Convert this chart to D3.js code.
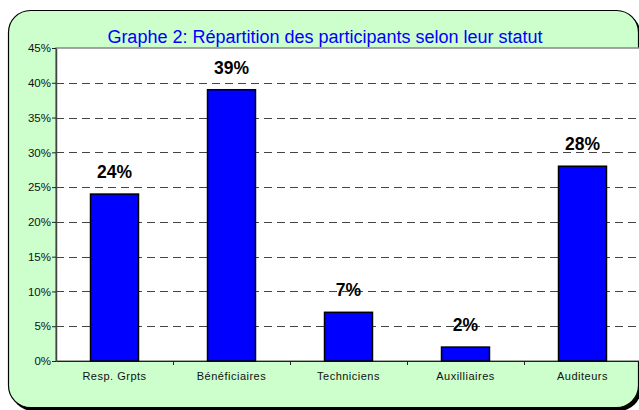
<!DOCTYPE html>
<html>
<head>
<meta charset="utf-8">
<script src="https://cdn.jsdelivr.net/npm/d3@7"></script>
<style>
  body { margin: 0; background: #fff; }
  svg { display: block; font-family: "Liberation Sans", Arial, sans-serif; }
</style>
</head>
<body>
<div id="chart"></div>
<script>
var categories = ['Resp. Grpts', 'Bénéficiaires', 'Techniciens', 'Auxilliaires', 'Auditeurs'];
var values = [0.24, 0.39, 0.07, 0.02, 0.28];
var yTicks = [0, 0.05, 0.10, 0.15, 0.20, 0.25, 0.30, 0.35, 0.40, 0.45];
var title = 'Graphe 2: Répartition des participants selon leur statut';

var width = 639, height = 410;
var margin = {top: 48, right: -2, bottom: 49, left: 56};

var svg = d3.select('#chart').append('svg')
  .attr('width', width)
  .attr('height', height);

// outer frame, with a small dark shadow
svg.append('rect')
  .attr('x', 11).attr('y', 13)
  .attr('width', 630).attr('height', 398)
  .attr('rx', 22).attr('ry', 22)
  .style('fill', '#000');
svg.append('rect')
  .attr('x', 8.5).attr('y', 10.5)
  .attr('width', 630).attr('height', 397)
  .attr('rx', 22).attr('ry', 22)
  .style('fill', '#ccffcc')
  .style('stroke', '#000')
  .style('stroke-width', 1.2);

var x = d3.scaleBand()
  .domain(categories)
  .range([margin.left, width - margin.right])
  .paddingInner(0.59).paddingOuter(0.295);

var xTicks = d3.scaleBand()
  .domain(categories)
  .range([margin.left, width - margin.right]);

var y = d3.scaleLinear()
  .domain([0, 0.45])
  .range([height - margin.bottom, margin.top]);

// plot area
svg.append('rect')
  .attr('x', margin.left).attr('y', margin.top)
  .attr('width', width - margin.left + 5)
  .attr('height', y(0) - margin.top)
  .style('fill', '#fff')
  .style('stroke', '#888')
  .style('stroke-width', 1.5);

// grid lines
svg.append('g').selectAll('line')
  .data(yTicks.slice(1, -1))
  .enter().append('line')
  .attr('x1', margin.left).attr('x2', width)
  .attr('y1', function (d) { return Math.round(y(d)) + 0.5; })
  .attr('y2', function (d) { return Math.round(y(d)) + 0.5; })
  .style('stroke', '#444')
  .style('stroke-dasharray', '8,5');

// y axis
var yAxis = d3.axisLeft(y)
  .tickValues(yTicks)
  .tickFormat(d3.format('.0%'))
  .tickSize(4)
  .tickSizeOuter(0);
var gy = svg.append('g')
  .attr('transform', 'translate(' + margin.left + ',0)')
  .call(yAxis);
gy.select('.domain').style('stroke', '#444').style('stroke-width', 1.5);
gy.selectAll('.tick line').style('stroke', '#222');
gy.selectAll('.tick text')
  .attr('x', -5)
  .style('font-size', '11.5px')
  .style('fill', '#111');

// x axis
var xAxis = d3.axisBottom(xTicks).tickSize(0).tickSizeOuter(0);
var gx = svg.append('g')
  .attr('transform', 'translate(0,' + y(0) + ')')
  .call(xAxis);
gx.select('.domain').style('stroke', '#222').style('stroke-width', 1);
gx.selectAll('.tick text')
  .attr('dy', '1.45em')
  .style('font-size', '11px')
  .style('fill', '#111')
  .style('letter-spacing', '0.5px');

// category separator ticks
svg.append('g').selectAll('line')
  .data(categories.slice(1))
  .enter().append('line')
  .attr('x1', function (d) { return Math.round(xTicks(d)) + 0.5; })
  .attr('x2', function (d) { return Math.round(xTicks(d)) + 0.5; })
  .attr('y1', y(0)).attr('y2', y(0) + 4)
  .style('stroke', '#222');

// bars
svg.append('g').selectAll('rect')
  .data(values)
  .enter().append('rect')
  .attr('x', function (d, i) { return x(categories[i]); })
  .attr('y', function (d) { return y(d); })
  .attr('width', x.bandwidth())
  .attr('height', function (d) { return y(0) - y(d); })
  .style('fill', '#0000ff')
  .style('stroke', '#000')
  .style('stroke-width', 1.5);

// value labels
svg.append('g').selectAll('text')
  .data(values)
  .enter().append('text')
  .attr('x', function (d, i) { return x(categories[i]) + x.bandwidth() / 2; })
  .attr('y', function (d) { return y(d) - 16; })
  .attr('text-anchor', 'middle')
  .style('font-size', '17.5px')
  .style('font-weight', 'bold')
  .style('fill', '#000')
  .text(function (d) { return Math.round(d * 100) + '%'; });

// title
svg.append('text')
  .attr('x', 325).attr('y', 43)
  .attr('text-anchor', 'middle')
  .style('font-size', '18px')
  .style('fill', '#0000ff')
  .text(title);
</script>
</body>
</html>
